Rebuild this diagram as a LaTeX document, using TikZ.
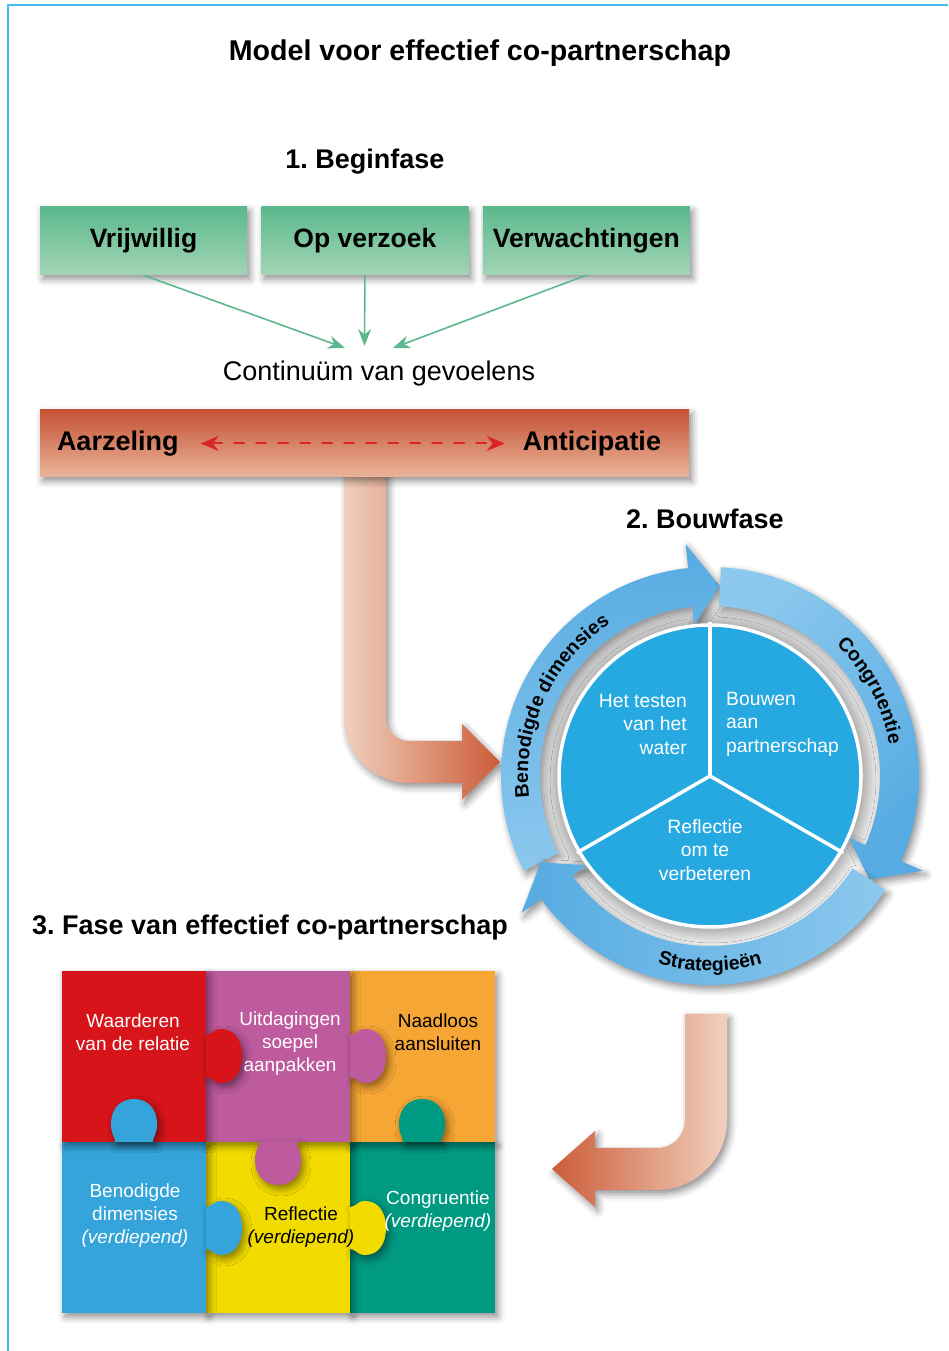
\documentclass[tikz,border=0pt]{standalone}
\usepackage{fontspec}
\setmainfont{Liberation Sans}
\usetikzlibrary{arrows.meta,positioning,shadows.blur,decorations.text}
\definecolor{framecyan}{RGB}{70,188,235}
\definecolor{boxgreen}{RGB}{92,184,140}
\definecolor{boxgreenlight}{RGB}{162,213,182}
\definecolor{barred}{RGB}{197,82,52}
\definecolor{barlight}{RGB}{234,180,154}
\definecolor{dashred}{RGB}{218,35,42}
\definecolor{arrowdark}{RGB}{204,92,56}
\definecolor{arrowlight}{RGB}{241,208,190}
\definecolor{ringlight}{RGB}{140,200,237}
\definecolor{ringdark}{RGB}{86,171,226}
\definecolor{piecyan}{RGB}{38,169,224}
\definecolor{halogrey}{RGB}{182,182,182}
\definecolor{pzred}{RGB}{214,20,26}
\definecolor{pzpink}{RGB}{190,90,158}
\definecolor{pzorange}{RGB}{246,166,52}
\definecolor{pzblue}{RGB}{52,164,219}
\definecolor{pzyellow}{RGB}{242,220,0}
\definecolor{pzteal}{RGB}{0,154,130}
\newcommand\ringfont{\fontsize{19.5}{21}\selectfont\bfseries}
\pgfdeclareradialshading{halo}{\pgfpoint{0bp}{0bp}}{color(0bp)=(halogrey);color(22.3bp)=(halogrey);color(25bp)=(white);color(50bp)=(white)}
\tikzset{
  softshadow/.style={blur shadow={shadow xshift=3pt,shadow yshift=-4pt,shadow blur radius=7pt,shadow opacity=45}},
  titletext/.style={font=\fontsize{28.6}{34}\selectfont\bfseries,inner sep=0pt},
  phasetext/.style={font=\fontsize{27}{32}\selectfont\bfseries,inner sep=0pt},
  greenbox/.style={minimum width=207pt,minimum height=68pt,inner sep=0pt,top color=boxgreen,bottom color=boxgreenlight,softshadow,font=\fontsize{26.5}{30}\selectfont\bfseries},
  greenarrow/.style={boxgreen,line width=1.6pt,-{Stealth[length=17pt,width=13pt]}},
  plaintext/.style={font=\fontsize{27}{32}\selectfont,inner sep=0pt},
  feelingbar/.style={minimum width=649pt,minimum height=67pt,inner sep=0pt,top color=barred,bottom color=barlight,softshadow},
  bartext/.style={font=\fontsize{27}{32}\selectfont\bfseries,inner sep=0pt},
  dasharrow/.style={dashred,line width=2pt,dash pattern=on 10pt off 12pt,{Stealth[length=18pt,width=15pt]}-{Stealth[length=18pt,width=15pt]},shorten <=22pt,shorten >=18pt},
  bigarrow/.style={softshadow},
  ringarrow/.style={softshadow},
  ringlabel/.style={decorate,decoration={text along path,text align=center,text={|\ringfont|#1}}},
  pietext/.style={text=white,font=\fontsize{19.3}{23.5}\selectfont,inner sep=0pt},
  puzzletext/.style={align=center,font=\fontsize{19}{23}\selectfont,inner sep=0pt},
  piece/.style={softshadow},
  hknob/.pic={\fill[pic actions,softshadow] (0,-21) .. controls (6,-21) and (7,-27) .. (15,-27) .. controls (29,-27) and (36,-15) .. (36,0) .. controls (36,15) and (29,27) .. (15,27) .. controls (7,27) and (6,21) .. (0,21) -- cycle;},
  uknob/.pic={\fill[pic actions,softshadow] (-19,0) .. controls (-19,6) and (-23,7) .. (-23,18) .. controls (-23,34) and (-13,43) .. (0,43) .. controls (13,43) and (23,34) .. (23,18) .. controls (23,7) and (19,6) .. (19,0) -- cycle;},
  dknob/.pic={\fill[pic actions,softshadow] (-19,0) .. controls (-19,-6) and (-23,-7) .. (-23,-18) .. controls (-23,-34) and (-13,-43) .. (0,-43) .. controls (13,-43) and (23,-34) .. (23,-18) .. controls (23,-7) and (19,-6) .. (19,0) -- cycle;}
}
\begin{document}
\frenchspacing
\begin{tikzpicture}[x=1pt,y=1pt,line cap=round,line join=round,>=Stealth]
\useasboundingbox (0,0) rectangle (948,1351);
\draw[framecyan,line width=1.5pt,line cap=butt] (8,0) -- (8,1346) -- (948,1346);

\node[titletext] (title) at (480,1298) {Model voor effectief co-partnerschap};
\node[phasetext] (fase1) at (365,1189) {1. Beginfase};
\node[greenbox] (vrij) at (143.5,1110) {Vrijwillig};
\node[greenbox,right=14pt of vrij] (verzoek) {Op verzoek};
\node[greenbox,right=14pt of verzoek] (verwacht) {Verwachtingen};
\node[plaintext] (continuum) at (379,977) {Continuüm van gevoelens};
\coordinate (inL) at (345,1003);
\coordinate (inM) at (364.5,1005);
\coordinate (inR) at (393,1003);
\draw[greenarrow] (vrij.south) -- (inL);
\draw[greenarrow] (verzoek.south) -- (inM);
\draw[greenarrow] (verwacht.south) -- (inR);

\shade[bigarrow,left color=arrowlight,right color=arrowdark] (344,880) -- (344,633) arc[start angle=180,end angle=270,radius=65] -- (462,568) -- (462,551) -- (500,589) -- (462,627) -- (462,610) -- (409,610) arc[start angle=270,end angle=180,radius=23] -- (386,880) -- cycle;
\node[feelingbar] (gevoel) at (364.5,907.5) {};
\node[bartext,right=17pt of gevoel.west] (aarzeling) {Aarzeling};
\node[bartext,left=28pt of gevoel.east] (anticipatie) {Anticipatie};
\draw[dasharrow] (aarzeling) -- (anticipatie);

\node[phasetext] (fase2) at (705,832) {2. Bouwfase};
\coordinate (hub) at (710,575);
\begin{scope}[shift={(hub)}]
\shade[shading=halo] (0,0) circle (172);
\shade[ringarrow,top color=ringdark,bottom color=ringlight] (207:209) arc[start angle=207,end angle=96,radius=209] -- (96:233) -- (87:190) -- (96:152) -- (96:170) arc[start angle=96,end angle=207,radius=170] -- cycle;
\shade[ringarrow,top color=ringlight,bottom color=ringdark,shading angle=45] (87:209) arc[start angle=87,end angle=-24,radius=209] -- (-24:233) -- (-33:190) -- (-24:152) -- (-24:170) arc[start angle=-24,end angle=87,radius=170] -- cycle;
\shade[ringarrow,left color=ringdark,right color=ringlight] (-33:209) arc[start angle=-33,end angle=-144,radius=209] -- (-144:233) -- (-153:190) -- (-144:152) -- (-144:170) arc[start angle=-144,end angle=-33,radius=170] -- cycle;
\path[ringlabel={Benodigde dimensies}] (195:182) arc[start angle=195,end angle=115,radius=182];
\path[ringlabel={Congruentie}] (56:182) arc[start angle=56,end angle=0,radius=182];
\path[ringlabel={Strategieën}] (245:195) arc[start angle=245,end angle=295,radius=195];
\end{scope}
\node[circle,minimum size=302pt,inner sep=0pt,fill=piecyan,draw=white,line width=3.5pt] (pie) at (hub) {};
\foreach \a in {90,210,330}
  \draw[white,line width=3.5pt] (pie.center) -- (pie.\a);
\node[pietext,align=right,anchor=east] (testen) at (687,627) {Het testen\\van het\\water};
\node[pietext,align=left,anchor=west] (bouwen) at (726,627) {Bouwen\\aan\\partnerschap};
\node[pietext,align=center] (reflectie) at (705,501) {Reflectie\\om te\\verbeteren};

\shade[bigarrow,left color=arrowdark,right color=arrowlight] (727,337) -- (727,231) arc[start angle=0,end angle=-90,radius=70] -- (595,161) -- (595,144) -- (552,182) -- (595,220) -- (595,203) -- (657,203) arc[start angle=-90,end angle=0,radius=28] -- (685,337) -- cycle;

\node[phasetext,anchor=west] (fase3) at (32,423) {3. Fase van effectief co-partnerschap};
\fill[piece,pzteal] (350,38) rectangle (495,209);
\fill[piece,pzyellow] (206,38) rectangle (350,209);
\fill[piece,pzblue] (62,38) rectangle (206,209);
\fill[piece,pzorange] (350,209) rectangle (495,380);
\fill[piece,pzpink] (206,209) rectangle (350,380);
\fill[piece,pzred] (62,209) rectangle (206,380);
\pic[fill=pzred] at (206,295) {hknob};
\pic[fill=pzpink] at (350,295) {hknob};
\pic[fill=pzblue] at (134,209) {uknob};
\pic[fill=pzpink] at (278,209) {dknob};
\pic[fill=pzteal] at (422,209) {uknob};
\pic[fill=pzblue] at (206,123) {hknob};
\pic[fill=pzyellow] at (350,123) {hknob};
\node[puzzletext,text=white] (waarderen) at (133,318.5) {Waarderen\\van de relatie};
\node[puzzletext,text=white] (uitdagingen) at (290,307) {Uitdagingen\\soepel\\aanpakken};
\node[puzzletext] (naadloos) at (438,318.5) {Naadloos\\aansluiten};
\node[puzzletext,text=white] (benodigde) at (135,135) {Benodigde\\dimensies\\\textit{(verdiepend)}};
\node[puzzletext] (reflverd) at (301,123.5) {Reflectie\\\textit{(verdiepend)}};
\node[puzzletext,text=white] (congruentie) at (438,139.5) {Congruentie\\\textit{(verdiepend)}};
\end{tikzpicture}
\end{document}
